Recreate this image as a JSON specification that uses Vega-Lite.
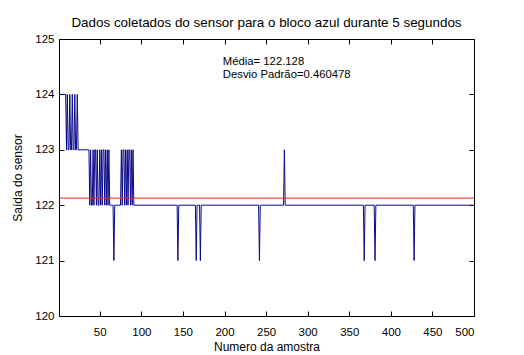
{
  "$schema": "https://vega.github.io/schema/vega-lite/v6.json",
  "width": 415,
  "height": 277,
  "autosize": "none",
  "padding": {"left": 59, "top": 39, "right": 50, "bottom": 39},
  "background": "white",
  "config": {
    "view": {"stroke": "black", "strokeWidth": 1},
    "font": "Liberation Sans",
    "axis": {
      "grid": false,
      "domainColor": "black",
      "tickColor": "black",
      "labelColor": "black",
      "titleColor": "black",
      "labelFont": "Liberation Sans",
      "titleFont": "Liberation Sans",
      "labelFontSize": 11.5,
      "titleFontSize": 12,
      "titleFontWeight": "normal",
      "tickSize": -5
    }
  },
  "title": {
    "text": "Dados coletados do sensor para o bloco azul durante 5 segundos",
    "fontSize": 13.4,
    "fontWeight": "normal",
    "font": "Liberation Sans",
    "color": "black",
    "frame": "group",
    "offset": 4
  },
  "datasets": {
    "s": [
      {"i":1,"v":124},{"i":9,"v":124},{"i":10,"v":123},{"i":11,"v":124},{"i":12,"v":123},{"i":13,"v":123},{"i":14,"v":124},{"i":15,"v":123},{"i":16,"v":123},{"i":17,"v":124},{"i":18,"v":123},{"i":19,"v":123},{"i":20,"v":124},{"i":21,"v":123},{"i":22,"v":123},{"i":23,"v":124},{"i":24,"v":123},{"i":37,"v":123},{"i":38,"v":122},{"i":39,"v":123},{"i":40,"v":122},{"i":41,"v":122},{"i":42,"v":123},{"i":43,"v":122},{"i":44,"v":123},{"i":45,"v":123},{"i":46,"v":122},{"i":47,"v":123},{"i":48,"v":122},{"i":49,"v":122},{"i":50,"v":123},{"i":51,"v":122},{"i":52,"v":123},{"i":53,"v":122},{"i":54,"v":123},{"i":55,"v":123},{"i":56,"v":122},{"i":57,"v":123},{"i":58,"v":122},{"i":59,"v":123},{"i":60,"v":122},{"i":61,"v":123},{"i":62,"v":122},{"i":66,"v":122},{"i":67,"v":121},{"i":68,"v":122},{"i":75,"v":122},{"i":76,"v":123},{"i":77,"v":122},{"i":78,"v":123},{"i":79,"v":123},{"i":80,"v":122},{"i":81,"v":123},{"i":82,"v":122},{"i":83,"v":123},{"i":84,"v":122},{"i":85,"v":123},{"i":86,"v":123},{"i":87,"v":122},{"i":88,"v":123},{"i":89,"v":122},{"i":90,"v":123},{"i":91,"v":122},{"i":143,"v":122},{"i":144,"v":121},{"i":145,"v":122},{"i":165,"v":122},{"i":166,"v":121},{"i":167,"v":122},{"i":170,"v":122},{"i":171,"v":121},{"i":172,"v":122},{"i":241,"v":122},{"i":242,"v":121},{"i":243,"v":122},{"i":271,"v":122},{"i":272,"v":123},{"i":273,"v":122},{"i":367,"v":122},{"i":368,"v":121},{"i":369,"v":122},{"i":380,"v":122},{"i":381,"v":121},{"i":382,"v":122},{"i":427,"v":122},{"i":428,"v":121},{"i":429,"v":122},{"i":500,"v":122}
    ]
  },
  "resolve": {"axis": {"x": "independent", "y": "independent"}},
  "layer": [
    {
      "data": {"name": "s"},
      "mark": {"type": "line", "color": "#0a0a8a", "strokeWidth": 1, "interpolate": "linear"},
      "encoding": {
        "x": {"field": "i", "type": "quantitative", "scale": {"domain": [1, 500], "nice": false, "zero": false},
              "axis": {"orient": "bottom", "values": [50,100,150,200,250,300,350,400,450,500], "title": "Numero da amostra", "labelPadding": 15, "titlePadding": 4}},
        "y": {"field": "v", "type": "quantitative", "scale": {"domain": [120, 125], "nice": false, "zero": false},
              "axis": {"orient": "left", "values": [120,121,122,123,124,125], "title": "Saída do sensor", "labelPadding": 10, "titlePadding": 10}}
      }
    },
    {
      "data": {"name": "s"},
      "mark": {"type": "point", "opacity": 0},
      "encoding": {
        "x": {"field": "i", "type": "quantitative", "axis": {"orient": "top", "values": [50,100,150,200,250,300,350,400,450,500], "labels": false, "title": null}},
        "y": {"field": "v", "type": "quantitative", "axis": {"orient": "right", "values": [120,121,122,123,124,125], "labels": false, "title": null}}
      }
    },
    {
      "data": {"values": [{"m": 122.128}]},
      "mark": {"type": "rule", "color": "#e02a1a", "strokeWidth": 1},
      "encoding": {
        "y": {"field": "m", "type": "quantitative", "axis": null}
      }
    },
    {
      "data": {"values": [{"t": "Média= 122.128", "x": 198, "y": 124.59}, {"t": "Desvio Padrão=0.460478", "x": 198, "y": 124.35}]},
      "mark": {"type": "text", "align": "left", "baseline": "middle", "fontSize": 11.3, "font": "Liberation Sans", "color": "black"},
      "encoding": {
        "x": {"field": "x", "type": "quantitative", "axis": null},
        "y": {"field": "y", "type": "quantitative", "axis": null},
        "text": {"field": "t"}
      }
    }
  ]
}
